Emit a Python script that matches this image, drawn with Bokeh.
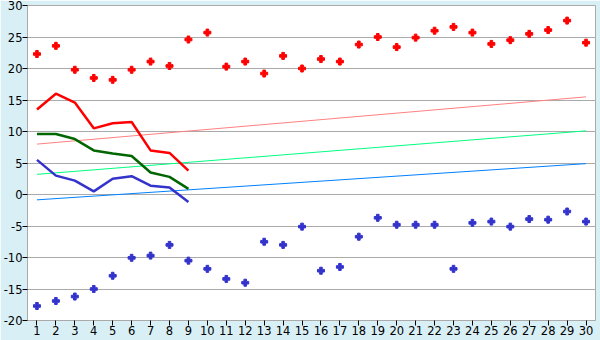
from bokeh.plotting import figure
from bokeh.models import FixedTicker
from bokeh.embed import file_html
from bokeh.resources import INLINE

days = list(range(1, 31))
max_pts = [22.3, 23.6, 19.8, 18.5, 18.2, 19.8, 21.1, 20.4, 24.6, 25.7,
           20.3, 21.1, 19.2, 22.0, 20.0, 21.5, 21.1, 23.8, 25.0, 23.4,
           24.9, 26.0, 26.6, 25.7, 23.9, 24.5, 25.5, 26.1, 27.6, 24.1]
min_pts = [-17.7, -16.9, -16.2, -15.0, -12.9, -10.05, -9.7, -8.0, -10.5, -11.8,
           -13.4, -14.0, -7.5, -8.0, -5.1, -12.1, -11.5, -6.7, -3.7, -4.8,
           -4.8, -4.8, -11.8, -4.5, -4.3, -5.1, -3.9, -4.0, -2.7, -4.3]
line_days = list(range(1, 10))
max_line = [13.5, 16.0, 14.6, 10.5, 11.3, 11.5, 7.0, 6.6, 3.8]
mean_line = [9.6, 9.6, 8.8, 7.0, 6.5, 6.1, 3.5, 2.8, 0.9]
min_line = [5.5, 3.0, 2.2, 0.5, 2.5, 2.9, 1.4, 1.1, -1.2]
trend_days = [1, 30]
trend_max = [8.0, 15.5]
trend_mean = [3.2, 10.1]
trend_min = [-0.85, 4.9]
y_ticks = [-20, -15, -10, -5, 0, 5, 10, 15, 20, 25, 30]
y_labels = ["-20", "-15", "-10", "-5", "0", "5", "10", "15", "20", "25", "30"]

bg = "#d9eff6"
p = figure(width=600, height=340, output_backend="svg", toolbar_location=None,
           x_range=(0.5, 30.5), y_range=(-20, 30),
           min_border_left=27, min_border_right=5, min_border_top=5, min_border_bottom=20)
p.background_fill_color = "white"
p.border_fill_color = bg
p.outline_line_color = "#aaaaaa"
p.outline_line_width = 1

p.xgrid.grid_line_color = None
p.ygrid.grid_line_color = "#aaaaaa"
p.ygrid.grid_line_width = 1
p.xaxis.ticker = FixedTicker(ticks=days)
p.yaxis.ticker = FixedTicker(ticks=y_ticks)
p.yaxis.major_label_overrides = dict(zip(y_ticks, y_labels))
for ax in (p.xaxis, p.yaxis):
    ax.axis_line_color = "#aaaaaa"
    ax.major_tick_line_color = "black"
    ax.major_tick_out = 5
    ax.major_tick_in = 0
    ax.minor_tick_line_color = None
    ax.major_label_text_font = "DejaVu Sans"
    ax.major_label_text_font_size = "11.5px"
    ax.major_label_text_color = "black"
    ax.major_label_standoff = 0

p.line(trend_days, trend_max, line_color="#ff8080", line_width=1)
p.line(trend_days, trend_mean, line_color="#00ff80", line_width=1)
p.line(trend_days, trend_min, line_color="#0080ff", line_width=1)

p.line(line_days, max_line, line_color="#ff0000", line_width=2.5)
p.line(line_days, mean_line, line_color="#006600", line_width=2.5)
p.line(line_days, min_line, line_color="#3333cc", line_width=2.5)

p.scatter(days, max_pts, marker="plus", size=7, fill_color="#ff0000", line_color="#ff0000")
p.scatter(days, min_pts, marker="plus", size=7, fill_color="#3333cc", line_color="#3333cc")

open("out.html", "w").write(file_html(p, INLINE))
